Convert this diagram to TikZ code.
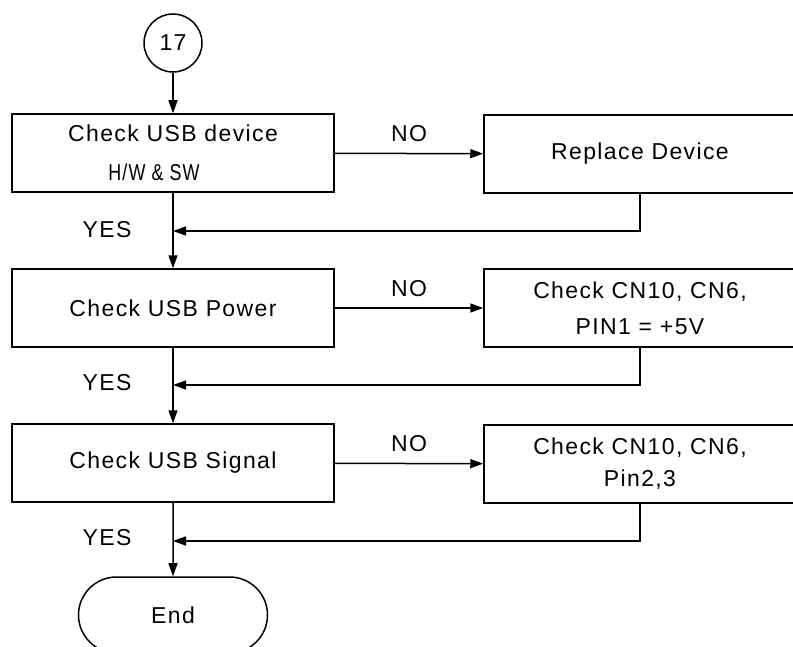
\documentclass[tikz,border=0pt]{standalone}
\usepackage{fontspec}
\setmainfont[LetterSpace=6]{Liberation Sans}
\usetikzlibrary{arrows.meta,shapes.misc}

\begin{document}
\begin{tikzpicture}[x=0.5pt,y=-0.5pt,line width=0.75pt,
  >={Triangle[length=6.5pt,width=4.5pt]},
  font=\fontsize{11.5}{17}\selectfont,
  check/.style={draw,minimum width=161pt,minimum height=39pt,align=center,inner sep=0pt},
  fix/.style={draw,minimum width=156pt,minimum height=39pt,align=center,inner sep=0pt},
  lbl/.style={inner sep=0pt}]
  \useasboundingbox (0,0) rectangle (793,647);
  \clip (0,0) rectangle (793,647);

  % connector and start
  \node[draw,circle,minimum size=29pt,inner sep=0pt] (c17) at (173,43) {17};

  % main column
  \node[check] (chk1) at (173,153) {Check USB device\\[2.5pt]\hspace*{-19pt}\scalebox{0.78}[1]{H/W \& SW}};
  \node[check] (chk2) at (173,308) {Check USB Power};
  \node[check] (chk3) at (173,463) {Check USB Signal};
  \node[draw,rounded rectangle,minimum width=94.5pt,minimum height=38pt,inner sep=0pt] (end) at (173,615) {End};

  % repair column
  \node[fix] (rep) at (640,154) {Replace Device};
  \node[fix,font=\fontsize{11.5}{18}\selectfont] (pwr) at (640,308) {Check CN10, CN6,\\PIN1 = +5V};
  \node[fix,font=\fontsize{11.5}{16}\selectfont] (sig) at (640,464) {Check CN10, CN6,\\Pin2,3};

  % joins on the main line
  \coordinate (j1) at (173,231);
  \coordinate (j2) at (173,385);
  \coordinate (j3) at (173,541);

  \node[lbl] (yes1) at (107,230) {YES};
  \node[lbl] (yes2) at (107,383) {YES};
  \node[lbl] (yes3) at (107,538) {YES};

  \draw[->] (c17) -- (chk1);
  \draw[->] (chk1) -- (chk2);
  \draw[->] (chk2) -- (chk3);
  \draw[->] (chk3) -- (end);

  \draw[->] (chk1) -- node[lbl,midway,above=5.5pt] (no1) {NO} (rep);
  \draw[->] (chk2) -- node[lbl,midway,above=5.5pt] (no2) {NO} (pwr);
  \draw[->] (chk3) -- node[lbl,midway,above=5.5pt] (no3) {NO} (sig);

  \draw[->] (rep.south) |- (j1);
  \draw[->] (pwr.south) |- (j2);
  \draw[->] (sig.south) |- (j3);
\end{tikzpicture}
\end{document}
